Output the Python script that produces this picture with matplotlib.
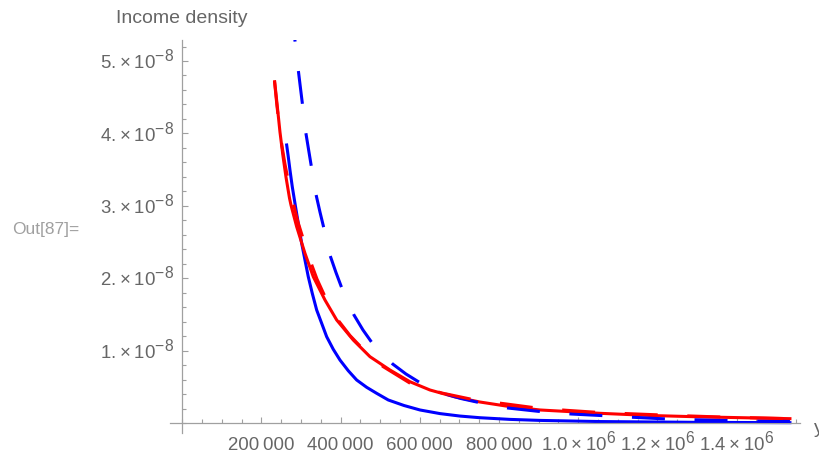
import numpy as np
import matplotlib.pyplot as plt
import matplotlib._mathtext as mathtext_internals
from matplotlib.ticker import MultipleLocator
from matplotlib.transforms import ScaledTranslation

plt.rcParams['font.family'] = ['Liberation Sans', 'DejaVu Sans']
plt.rcParams['mathtext.fontset'] = 'custom'
plt.rcParams['mathtext.rm'] = 'Liberation Sans'
plt.rcParams['mathtext.default'] = 'regular'
# bigger exponents, closer to the notebook look
mathtext_internals.SHRINK_FACTOR = 0.85

# densities, y in units of 1e-8
x_blue = [263640, 267680, 271970, 277780, 284600, 292930, 301520, 309850, 318190,
          328290, 339400, 352020, 364650, 381320, 398240, 419200, 440410, 465670,
          490920, 520220, 559860, 600270, 650780, 701280, 751790, 827550, 903300,
          1054800, 1307400, 1534600]
y_blue = [3.840, 3.678, 3.494, 3.264, 3.034, 2.758, 2.482, 2.251, 2.021,
          1.791, 1.561, 1.377, 1.192, 1.018, 0.870, 0.722, 0.594, 0.493,
          0.410, 0.318, 0.242, 0.180, 0.130, 0.096, 0.073, 0.050, 0.036,
          0.020, 0.0088, 0.0046]

x_red = [233340, 240410, 246720, 254300, 261870, 270710, 274500, 288890, 309850,
         330810, 360360, 389910, 431830, 474000, 524510, 575010, 625520, 688700,
         751790, 827600, 903300, 1054800, 1181000, 1307400, 1534600]
y_red = [4.714, 4.351, 4.019, 3.688, 3.398, 3.108, 3.011, 2.711, 2.344,
         2.021, 1.699, 1.423, 1.146, 0.916, 0.732, 0.570, 0.456, 0.360,
         0.290, 0.226, 0.180, 0.134, 0.104, 0.085, 0.060]

x_blue_d = [283590, 292930, 297980, 303040, 311620, 318690, 325760, 337630, 347730,
            357070, 373740, 388130, 402530, 433590, 456320, 479050, 531320, 564910,
            600270, 659110, 703800, 751790, 822500, 907600, 983360, 1054800,
            1138200, 1226600, 1299800, 1388200, 1458900, 1534600]
y_blue_d = [5.331, 4.876, 4.648, 4.424, 4.023, 3.785, 3.550, 3.159, 2.914,
            2.703, 2.307, 2.079, 1.869, 1.492, 1.285, 1.109, 0.815, 0.677,
            0.557, 0.410, 0.338, 0.280, 0.207, 0.156, 0.124, 0.104,
            0.079, 0.055, 0.044, 0.033, 0.028, 0.021]

x_red_d = [232830, 239150, 245460, 251770, 259340, 268180, 279550, 292180, 305560,
           322480, 340160, 360360, 393190, 423490, 453800, 506830, 582590, 655820,
           739160, 809870, 895780, 971550, 1054800, 1213900, 1375500, 1534600]
y_red_d = [4.724, 4.378, 4.075, 3.826, 3.577, 3.329, 3.052, 2.776, 2.541,
           2.251, 1.989, 1.747, 1.423, 1.209, 1.036, 0.780, 0.525, 0.414,
           0.318, 0.269, 0.207, 0.175, 0.145, 0.110, 0.080, 0.060]

x_ticks = [200000, 400000, 600000, 800000, 1000000, 1200000, 1400000]
x_labels = ['200\u2009000', '400\u2009000', '600\u2009000', '800\u2009000',
            '1.0\u2009\u00d7\u200910$^{6}$', '1.2\u2009\u00d7\u200910$^{6}$',
            '1.4\u2009\u00d7\u200910$^{6}$']
y_ticks = [1e-8, 2e-8, 3e-8, 4e-8, 5e-8]
y_labels = ['1.\u2009\u00d7\u200910$^{-8}$', '2.\u2009\u00d7\u200910$^{-8}$',
            '3.\u2009\u00d7\u200910$^{-8}$', '4.\u2009\u00d7\u200910$^{-8}$',
            '5.\u2009\u00d7\u200910$^{-8}$']

axis_gray = '#a0a0a0'
text_gray = '#666666'
lw = 2.2
dash = (10.8, 9.7)

fig = plt.figure(figsize=(8.2, 4.57), dpi=100)
ax = fig.add_axes([170 / 820, 24 / 457, 630 / 820, 393 / 457])

s = 1e-8
ax.plot(x_blue, np.array(y_blue) * s, color='#0000ff', lw=lw, zorder=2)
ax.plot(x_red, np.array(y_red) * s, color='#ff0000', lw=lw, zorder=3)
ax.plot(x_blue_d, np.array(y_blue_d) * s, color='#0000ff', lw=lw,
        linestyle=(9.3, dash), zorder=4)
ax.plot(x_red_d, np.array(y_red_d) * s, color='#ff0000', lw=lw,
        linestyle=(0, dash), zorder=5)

ax.set_xlim(-31000, 1560000)
ax.set_ylim(-0.138e-8, 5.29e-8)

for side in ['top', 'right']:
    ax.spines[side].set_visible(False)
for side in ['left', 'bottom']:
    ax.spines[side].set_position(('data', 0))
    ax.spines[side].set_color(axis_gray)
    ax.spines[side].set_linewidth(0.9)

ax.set_xticks(x_ticks)
ax.set_xticklabels(x_labels)
ax.set_yticks(y_ticks)
ax.set_yticklabels(y_labels)
ax.xaxis.set_minor_locator(MultipleLocator(50000))
ax.yaxis.set_minor_locator(MultipleLocator(0.2e-8))

ax.tick_params(which='both', direction='in', color=axis_gray, width=0.8,
               labelcolor=text_gray, labelsize=13.4)
ax.tick_params(which='major', length=4.3)
ax.tick_params(which='minor', length=2.6)
ax.tick_params(axis='x', pad=19.7)
ax.tick_params(axis='y', pad=6)

# line the labels up on their baselines, as the notebook does
for t in ax.xaxis.get_major_ticks():
    t.label1.set_verticalalignment('baseline')
shift = ScaledTranslation(0, -0.073, fig.dpi_scale_trans)
for t in ax.yaxis.get_major_ticks():
    t.label1.set_verticalalignment('baseline')
    t.label1.set_transform(t.label1.get_transform() + shift)

fig.text(182 / 820, 1 - 18.3 / 457, 'Income density', ha='center', va='center',
         fontsize=14, color=text_gray)
fig.text(814 / 820, 1 - 433 / 457, 'y', ha='left', va='baseline',
         fontsize=14, color=text_gray)
fig.text(11.7 / 820, 1 - 230 / 457, 'Out[87]=', ha='left', va='center',
         fontsize=12.5, color='#a0a0a0')

fig.savefig('out.png', dpi=100)
